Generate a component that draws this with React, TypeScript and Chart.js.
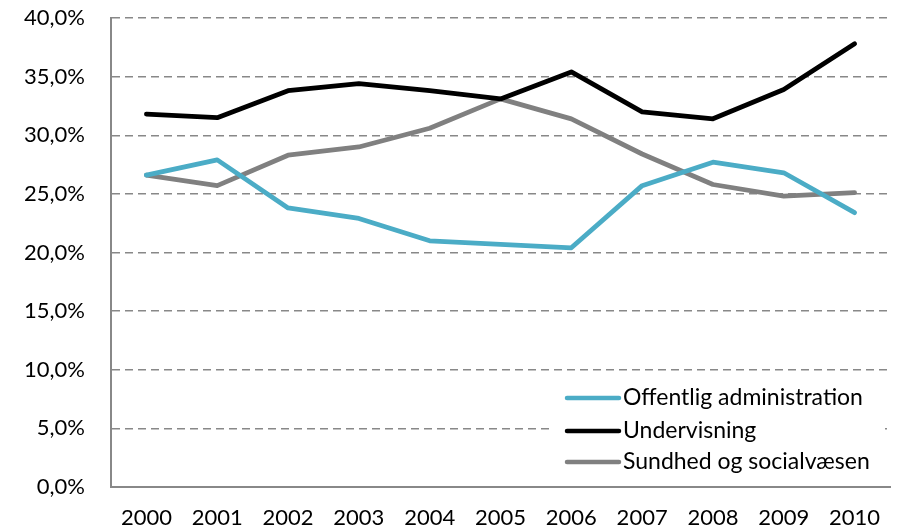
import React, { useEffect, useRef } from "react";
import { Chart, registerables } from "chart.js";

Chart.register(...registerables);

const years = ["2000", "2001", "2002", "2003", "2004", "2005", "2006", "2007", "2008", "2009", "2010"];
const offentligAdministration = [26.6, 27.9, 23.8, 22.9, 21.0, 20.7, 20.4, 25.7, 27.7, 26.8, 23.4];
const undervisning = [31.8, 31.5, 33.8, 34.4, 33.8, 33.1, 35.4, 32.0, 31.4, 33.9, 37.8];
const sundhedOgSocialvaesen = [26.6, 25.7, 28.3, 29.0, 30.6, 33.1, 31.4, 28.4, 25.8, 24.8, 25.1];

const seriesNames = ["Offentlig administration", "Undervisning", "Sundhed og socialvæsen"];
const seriesColors = ["#4BACC6", "#000000", "#808080"];

const FONT = "Lato, 'Open Sans', sans-serif";

const legendPlugin = {
  id: "innerLegend",
  afterDraw(chart: any) {
    const ctx = chart.ctx;
    const area = chart.chartArea;
    const x0 = area.left + 456;
    const rows = [398, 431, 462];
    ctx.save();
    ctx.fillStyle = "#fff";
    ctx.fillRect(area.left + 440, 376, 334, area.bottom - 2 - 376);
    chart.data.datasets.forEach((ds: any, i: number) => {
      const y = rows[i];
      ctx.strokeStyle = ds.borderColor;
      ctx.lineWidth = 4.5;
      ctx.lineCap = "round";
      ctx.beginPath();
      ctx.moveTo(x0, y);
      ctx.lineTo(x0 + 52, y);
      ctx.stroke();
      ctx.fillStyle = "#000";
      ctx.font = `23px ${FONT}`;
      ctx.textBaseline = "middle";
      ctx.textAlign = "left";
      ctx.fillText(ds.label, x0 + 56, y);
    });
    ctx.restore();
  },
};

export default function App() {
  const ref = useRef<HTMLCanvasElement>(null);
  useEffect(() => {
    if (!ref.current) return;
    const all = [offentligAdministration, undervisning, sundhedOgSocialvaesen];
    const chart = new Chart(ref.current, {
      type: "line",
      data: {
        labels: years,
        datasets: all.map((d, i) => ({
          label: seriesNames[i],
          data: d,
          borderColor: seriesColors[i],
          backgroundColor: seriesColors[i],
          borderWidth: 4.8,
          pointRadius: 0,
          tension: 0,
          borderCapStyle: "round" as const,
          borderJoinStyle: "round" as const,
        })),
      },
      options: {
        responsive: false,
        animation: false,
        layout: { padding: { top: 18, right: 10, left: 0, bottom: 0 } },
        plugins: { legend: { display: false }, tooltip: { enabled: false } },
        scales: {
          x: {
            offset: true,
            grid: { display: false, drawTicks: false },
            border: { display: true, color: "#888888", width: 2 },
            ticks: { color: "#000", font: { family: FONT, size: 22 }, padding: 18, maxRotation: 0 },
            afterFit: (s: any) => { s.height = 45; },
          },
          y: {
            min: 0,
            max: 40,
            grid: { color: "#888888", lineWidth: 1.5, drawTicks: false },
            border: { display: true, color: "#888888", width: 2, dash: [8, 5] },
            ticks: {
              stepSize: 5,
              color: "#000",
              font: { family: FONT, size: 22 },
              padding: 26,
              callback: (v: any) => Number(v).toFixed(1).replace(".", ",") + "%",
            },
            afterFit: (s: any) => {
              s.width = 111;
              s.paddingTop = 0;
              s.paddingBottom = 0;
            },
          },
        },
      },
      plugins: [legendPlugin],
    } as any);
    return () => chart.destroy();
  }, []);
  return (
    <div style={{ position: "fixed", left: 0, top: 0, width: 900, height: 532, background: "#fff" }}>
      <canvas ref={ref} width={900} height={532} />
    </div>
  );
}
